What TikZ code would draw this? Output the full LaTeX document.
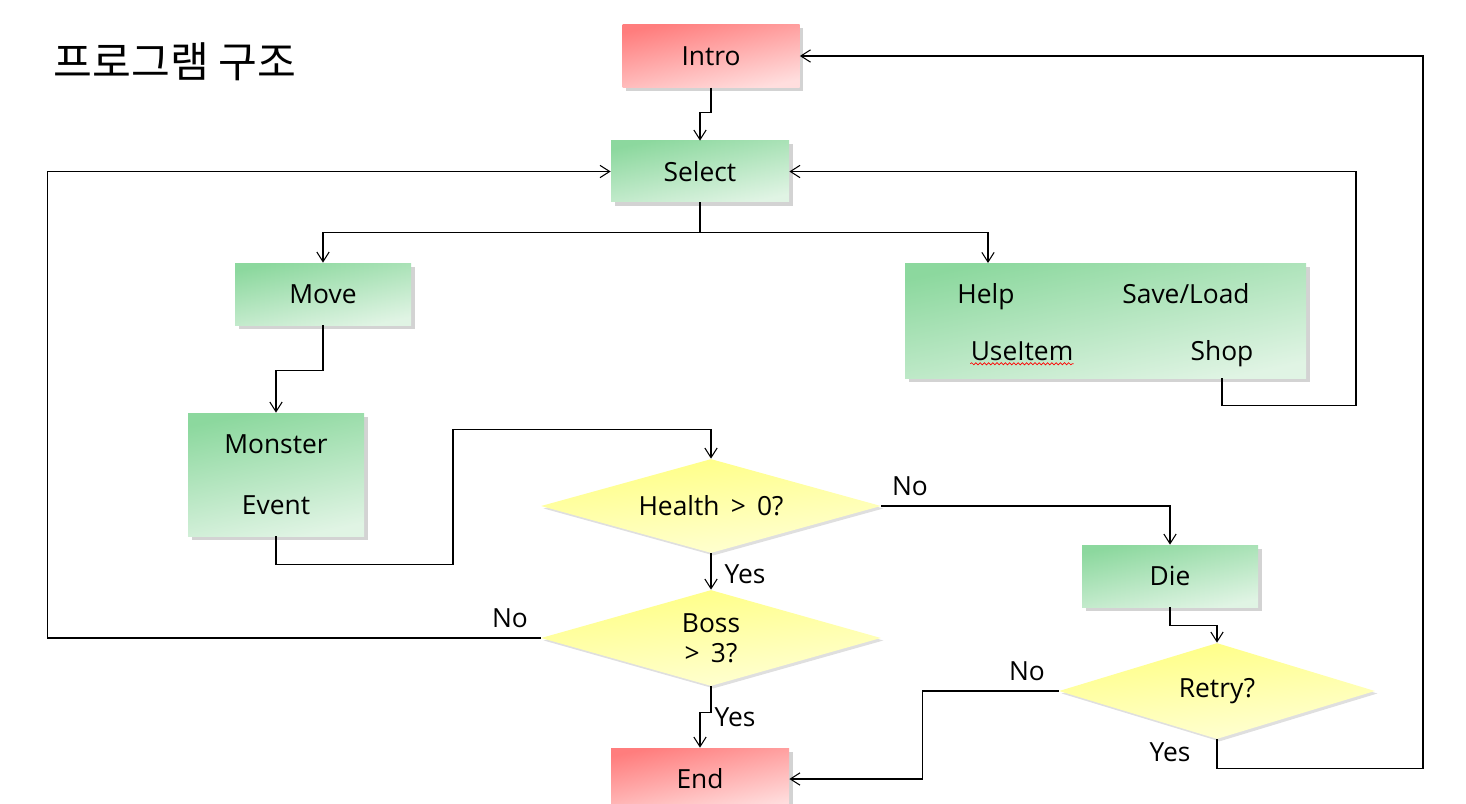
\documentclass[tikz,border=0pt]{standalone}
\usepackage{fontspec}
\setmainfont{Open Sans}
\newfontfamily\kofont{Noto Sans CJK KR}
\usetikzlibrary{shapes.geometric,shadows,arrows.meta,decorations.pathmorphing}
\definecolor{redtop}{RGB}{255,125,125}
\definecolor{redbot}{RGB}{255,222,222}
\definecolor{greentop}{RGB}{140,216,158}
\definecolor{greenbot}{RGB}{224,244,228}
\definecolor{yellowtop}{RGB}{255,255,130}
\definecolor{yellowbot}{RGB}{255,255,215}
\begin{document}
\begin{tikzpicture}[
    font=\fontsize{15}{18}\selectfont,
    box/.style={rectangle, inner sep=0pt, drop shadow={shadow xshift=0.07cm, shadow yshift=-0.07cm, opacity=0.35}},
    redbox/.style={box, top color=redtop, bottom color=redbot, shading angle=12},
    greenbox/.style={box, top color=greentop, bottom color=greenbot, shading angle=12},
    ask/.style={diamond, aspect=3.6, inner sep=0pt, align=center, top color=yellowtop, bottom color=yellowbot, shading angle=6, drop shadow={shadow xshift=0.05cm, shadow yshift=-0.05cm, opacity=0.25}},
    flow/.style={line width=0.6pt, -{Straight Barb[length=5.5pt,width=7pt]}},
    lbl/.style={inner sep=0pt, text height=13pt, text depth=3pt}
  ]
    \useasboundingbox (0, 0) rectangle (29.32, -16.08);
    % title
    \node (title) at (3.5, -1.24) {\kofont\fontsize{24}{28}\selectfont 프로그램 구조};
    %
    \node [redbox, minimum width=3.54cm, minimum height=1.26cm] (intro) at (14.22, -1.12) {Intro};
    \node [greenbox, minimum width=3.56cm, minimum height=1.22cm] (select) at (14.0, -3.43) {Select};
    \node [greenbox, minimum width=3.52cm, minimum height=1.24cm] (move) at (6.46, -5.88) {Move};
    \node [greenbox, minimum width=8.02cm, minimum height=2.3cm] (menu) at (22.11, -6.41) {};
    \node [lbl] (help) at (19.72, -5.9) {Help};
    \node [lbl] (saveload) at (23.72, -5.9) {Save/Load};
    \node [lbl] (useitem) at (20.44, -7.04) {UseItem};
    \node [lbl] (shop) at (24.44, -7.04) {Shop};
    \draw [red, line width=0.4pt, decorate, decoration={snake, amplitude=0.6pt, segment length=2.4pt}]
      ([yshift=1.5pt]useitem.south west) -- ([yshift=1.5pt]useitem.south east);
    \node [greenbox, minimum width=3.52cm, minimum height=2.46cm, align=center] (monster) at (5.52, -9.49) {Monster\\[17pt]Event};
    %
    \node [ask, minimum width=6.8cm, minimum height=1.88cm] (health) at (14.22, -10.12) {Health \,>\, 0?};
    \node [ask, minimum width=6.8cm, minimum height=1.92cm] (boss) at (14.22, -12.76) {Boss\\[-1pt]>\, 3?};
    \node [redbox, minimum width=3.56cm, minimum height=1.24cm] (end) at (14.0, -15.58) {End};
    \node [greenbox, minimum width=3.52cm, minimum height=1.24cm] (die) at (23.4, -11.52) {Die};
    \node [ask, minimum width=6.32cm, minimum height=1.92cm] (retry) at (24.34, -13.82) {Retry?};
    %
    \coordinate (menuin) at (19.76, -5.26);
    \draw [flow] (intro.south) -- ++(0, -0.5) -| (select.north);
    \draw [flow] (select.south) -- ++(0, -0.6) -| (move.north);
    \draw [flow] (select.south) -- ++(0, -0.6) -| (menuin);
    \draw [flow] (shop |- menu.south) -- ++(0, -0.54) -- ++(2.68, 0) |- (select.east);
    \draw [flow] (move.south) -- ++(0, -0.9) -| (monster.north);
    \draw [flow] (monster.south) -- ++(0, -0.56) -- ++(3.54, 0) |- ([yshift=0.58cm]health.north) -- (health.north);
    \draw [flow] (health.east) -| (die.north);
    \draw [flow] (health.south) -- (boss.north);
    \draw [flow] (boss.west) -- ++(-9.86, 0) |- (select.west);
    \draw [flow] (boss.south) -- ++(0, -0.52) -| (end.north);
    \draw [flow] (die.south) -- ++(0, -0.36) -| (retry.north);
    \draw [flow] (retry.west) -- ++(-2.72, 0) |- (end.east);
    \draw [flow] (retry.south) -- ++(0, -0.58) -- ++(4.12, 0) |- (intro.east);
    % labels
    \node [lbl] (hno) at (18.2, -9.74) {No};
    \node [lbl] (hyes) at (14.9, -11.5) {Yes};
    \node [lbl] (bno) at (10.2, -12.38) {No};
    \node [lbl] (byes) at (14.7, -14.36) {Yes};
    \node [lbl] (rno) at (20.54, -13.44) {No};
    \node [lbl] (ryes) at (23.4, -15.06) {Yes};
  \end{tikzpicture}
\end{document}
